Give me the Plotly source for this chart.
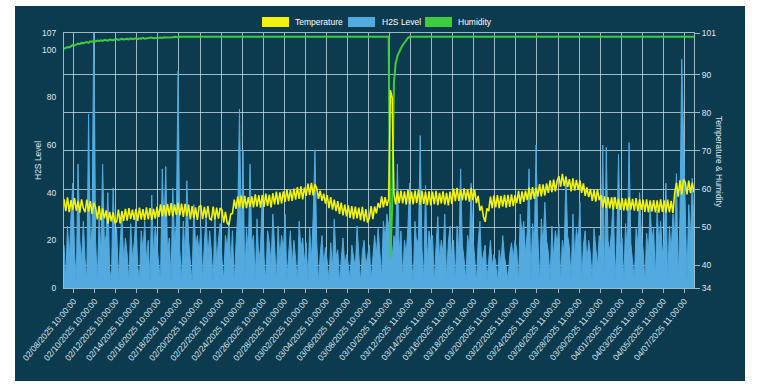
import pandas as pd
import plotly.graph_objects as go

# ---------------- data ----------------
start_time = "2025-02-07 12:00"   # first sample
step = "4h"                      # sampling step

h2s_level = [
    18, 3, 26, 12, 30, 44,
    15, 2, 52, 20, 11, 28,
    12, 3, 73, 18, 25, 115,
    20, 2, 30, 14, 52, 19,
    22, 40, 8, 2, 42, 16,
    25, 3, 18, 32, 10, 21,
    14, 2, 27, 12, 19, 30,
    9, 3, 24, 15, 28, 11,
    20, 2, 39, 13, 26, 17,
    10, 3, 50, 24, 51, 14,
    21, 2, 42, 18, 27, 91,
    16, 3, 28, 12, 45, 20,
    11, 2, 35, 17, 22, 14,
    26, 3, 19, 30, 12, 24,
    15, 2, 31, 10, 20, 27,
    12, 3, 22, 16, 28, 9,
    24, 2, 18, 31, 75, 20,
    58, 3, 25, 14, 52, 18,
    22, 2, 29, 11, 17, 39,
    13, 3, 24, 19, 10, 31,
    18, 2, 26, 12, 22, 15,
    31, 3, 14, 24, 9, 20,
    12, 2, 28, 16, 21, 10,
    19, 3, 25, 11, 30, 58,
    20, 2, 14, 22, 9, 17,
    11, 3, 19, 8, 29, 13,
    16, 2, 12, 21, 9, 14,
    10, 3, 18, 13, 8, 26,
    12, 2, 15, 20, 9, 13,
    18, 3, 11, 22, 14, 25,
    15, 4, 28, 20, 31, 26,
    30, 12, 22, 18, 52, 15,
    24, 3, 20, 14, 26, 44,
    12, 2, 28, 18, 21, 64,
    16, 3, 43, 11, 24, 19,
    22, 2, 17, 30, 12, 20,
    14, 31, 3, 19, 26, 11,
    20, 2, 26, 15, 50, 18,
    12, 3, 22, 16, 44, 21,
    13, 2, 19, 28, 10, 15,
    18, 3, 12, 20, 9, 14,
    11, 2, 16, 10, 22, 13,
    9, 3, 14, 19, 12, 20,
    16, 2, 31, 22, 28, 14,
    24, 50, 3, 27, 18, 60,
    22, 2, 29, 17, 36, 20,
    15, 3, 26, 12, 24, 18,
    27, 2, 20, 14, 47, 22,
    17, 3, 31, 12, 25, 19,
    36, 2, 18, 24, 11, 20,
    14, 3, 25, 16, 9, 22,
    18, 60, 2, 59, 20, 15,
    24, 38, 3, 19, 56, 17,
    21, 2, 27, 14, 61, 19,
    12, 3, 25, 18, 40, 22,
    16, 2, 23, 14, 34, 20,
    25, 3, 33, 18, 28, 14,
    20, 44, 2, 26, 15, 31,
    22, 48, 3, 30, 96, 61,
    28, 3, 35, 20, 46, 25,
]

temperature = [
    57.4, 54.2, 57.8, 53.9, 57.1, 54.6,
    57.6, 54.3, 56.9, 53.8, 57.3, 55.0,
    53.9, 57.2, 54.1, 56.8, 53.5, 56.4,
    55.2, 52.0, 55.6, 51.8, 54.9, 52.3,
    54.4, 50.9, 54.0, 51.5, 53.9, 51.2,
    51.4, 54.6, 51.0, 54.2, 51.6, 54.8,
    51.7, 55.0, 52.1, 54.6, 51.9, 54.8,
    51.6, 55.1, 52.0, 54.7, 51.8, 55.2,
    52.0, 55.0, 51.9, 54.8, 52.2, 55.3,
    52.6, 56.0, 52.9, 55.8, 52.8, 56.1,
    53.0, 56.3, 52.8, 56.0, 53.2, 56.4,
    53.1, 56.2, 52.7, 56.1, 52.9, 55.9,
    52.0, 55.5, 52.3, 55.2, 51.9, 55.4,
    55.6, 52.1, 55.3, 52.4, 55.5, 52.2,
    51.9, 55.4, 52.0, 55.1, 52.2, 55.0,
    54.6, 51.2, 54.0, 51.0, 50.6, 53.4,
    53.6, 57.2, 54.8, 58.0, 55.2, 58.3,
    54.9, 58.2, 55.0, 57.9, 55.3, 58.1,
    55.2, 58.6, 55.4, 58.4, 55.1, 58.5,
    55.3, 58.8, 55.6, 58.5, 55.2, 58.9,
    56.0, 59.3, 55.9, 59.1, 56.2, 59.4,
    56.6, 59.9, 56.8, 59.7, 56.9, 60.1,
    57.2, 60.5, 57.4, 60.7, 57.3, 60.4,
    58.2, 61.4, 58.4, 61.6, 58.3, 61.2,
    60.3, 57.4, 59.6, 56.9, 58.8, 56.2,
    58.4, 55.0, 57.9, 54.6, 57.2, 54.2,
    56.8, 53.5, 56.4, 53.1, 55.9, 52.8,
    55.7, 52.4, 55.5, 52.1, 55.4, 52.3,
    55.1, 51.8, 55.3, 51.5, 54.7, 51.2,
    52.4, 55.5, 52.1, 55.4, 53.6, 56.3,
    55.0, 58.1, 55.2, 57.9, 55.6, 57.4,
    86.0, 84.0, 58.8, 56.0, 59.4, 56.3,
    59.6, 56.2, 59.4, 55.9, 59.7, 56.1,
    59.3, 56.0, 59.6, 56.3, 59.8, 55.9,
    59.5, 56.1, 59.2, 55.8, 59.4, 55.7,
    59.3, 56.0, 59.5, 55.8, 59.0, 56.2,
    59.4, 55.9, 59.0, 55.7, 59.3, 56.1,
    60.1, 56.8, 60.3, 56.9, 59.9, 57.0,
    60.2, 57.0, 60.0, 56.7, 60.3, 57.1,
    59.8, 56.3, 58.2, 54.3, 55.6, 52.8,
    51.4, 54.9, 54.2, 58.0, 55.0, 58.3,
    55.2, 58.4, 55.0, 58.2, 55.4, 58.5,
    55.1, 58.5, 55.3, 58.6, 55.5, 58.4,
    56.3, 59.5, 56.1, 59.4, 56.6, 59.6,
    57.1, 60.4, 57.2, 60.5, 57.4, 60.3,
    58.0, 61.3, 58.1, 61.2, 58.3, 61.5,
    59.0, 62.3, 59.2, 62.5, 59.4, 62.1,
    63.4, 60.6, 64.0, 60.8, 63.2, 60.5,
    62.6, 59.4, 62.8, 59.6, 62.4, 59.8,
    62.3, 59.0, 61.5, 58.2, 60.4, 57.9,
    60.0, 56.9, 59.8, 56.7, 59.9, 57.1,
    58.4, 55.2, 58.1, 55.0, 57.9, 54.9,
    57.8, 54.6, 57.9, 54.8, 57.5, 54.5,
    57.6, 54.4, 57.5, 54.3, 57.8, 54.6,
    57.4, 54.3, 57.6, 54.2, 57.3, 54.5,
    57.2, 54.0, 57.3, 53.9, 57.0, 54.1,
    57.1, 53.9, 57.0, 53.8, 57.3, 54.0,
    57.0, 53.8, 57.2, 53.9, 56.9, 53.7,
    59.0, 61.6, 58.0, 62.3, 58.6, 62.5,
    61.8, 58.6, 62.2, 58.9, 61.7, 59.1,
]

humidity = [
    96.8, 97.1, 97.3, 97.2, 97.6, 97.8,
    97.7, 98.0, 98.2, 98.1, 98.4, 98.3,
    98.5, 98.6, 98.4, 98.8, 98.7, 98.9,
    98.8, 99.0, 98.9, 99.1, 98.9, 99.2,
    99.1, 99.0, 99.3, 99.2, 99.1, 99.3,
    99.4, 99.2, 99.3, 99.5, 99.3, 99.4,
    99.5, 99.3, 99.6, 99.4, 99.5, 99.6,
    99.4, 99.6, 99.5, 99.7, 99.5, 99.6,
    99.7, 99.6, 99.8, 99.6, 99.7, 99.8,
    99.7, 99.8, 99.7, 99.9, 99.8, 99.8,
    99.9, 99.8, 99.9, 100, 99.9, 99.9,
    100, 99.9, 100, 100, 99.9, 100,
    100, 100, 100, 100, 100, 100,
    100, 100, 100, 100, 100, 100,
    100, 100, 100, 100, 100, 100,
    100, 100, 100, 100, 100, 100,
    100, 100, 100, 100, 100, 100,
    100, 100, 100, 100, 100, 100,
    100, 100, 100, 100, 100, 100,
    100, 100, 100, 100, 100, 100,
    100, 100, 100, 100, 100, 100,
    100, 100, 100, 100, 100, 100,
    100, 100, 100, 100, 100, 100,
    100, 100, 100, 100, 100, 100,
    100, 100, 100, 100, 100, 100,
    100, 100, 100, 100, 100, 100,
    100, 100, 100, 100, 100, 100,
    100, 100, 100, 100, 100, 100,
    100, 100, 100, 100, 100, 100,
    100, 100, 100, 100, 100, 100,
    100, 100, 100, 100, 100, 100,
    42, 55, 88, 93, 95, 96.2,
    97, 97.8, 98.5, 99.2, 99.7, 100,
    100, 100, 100, 100, 100, 100,
    100, 100, 100, 100, 100, 100,
    100, 100, 100, 100, 100, 100,
    100, 100, 100, 100, 100, 100,
    100, 100, 100, 100, 100, 100,
    100, 100, 100, 100, 100, 100,
    100, 100, 100, 100, 100, 100,
    100, 100, 100, 100, 100, 100,
    100, 100, 100, 100, 100, 100,
    100, 100, 100, 100, 100, 100,
    100, 100, 100, 100, 100, 100,
    100, 100, 100, 100, 100, 100,
    100, 100, 100, 100, 100, 100,
    100, 100, 100, 100, 100, 100,
    100, 100, 100, 100, 100, 100,
    100, 100, 100, 100, 100, 100,
    100, 100, 100, 100, 100, 100,
    100, 100, 100, 100, 100, 100,
    100, 100, 100, 100, 100, 100,
    100, 100, 100, 100, 100, 100,
    100, 100, 100, 100, 100, 100,
    100, 100, 100, 100, 100, 100,
    100, 100, 100, 100, 100, 100,
    100, 100, 100, 100, 100, 100,
    100, 100, 100, 100, 100, 100,
    100, 100, 100, 100, 100, 100,
    100, 100, 100, 100, 100, 100,
]

tick_labels = [
    "02/08/2025 10:00:00", "02/10/2025 10:00:00", "02/12/2025 10:00:00",
    "02/14/2025 10:00:00", "02/16/2025 10:00:00", "02/18/2025 10:00:00",
    "02/20/2025 10:00:00", "02/22/2025 10:00:00", "02/24/2025 10:00:00",
    "02/26/2025 10:00:00", "02/28/2025 10:00:00", "03/02/2025 10:00:00",
    "03/04/2025 10:00:00", "03/06/2025 10:00:00", "03/08/2025 10:00:00",
    "03/10/2025 11:00:00", "03/12/2025 11:00:00", "03/14/2025 11:00:00",
    "03/16/2025 11:00:00", "03/18/2025 11:00:00", "03/20/2025 11:00:00",
    "03/22/2025 11:00:00", "03/24/2025 11:00:00", "03/26/2025 11:00:00",
    "03/28/2025 11:00:00", "03/30/2025 11:00:00", "04/01/2025 11:00:00",
    "04/03/2025 11:00:00", "04/05/2025 11:00:00", "04/07/2025 11:00:00",
]
h2s_ticks = [0, 20, 40, 60, 80, 100, 107]
th_ticks = [34, 40, 50, 60, 70, 80, 90, 101]

# ---------------- styling ----------------
W, H = 762, 385
L, R, T, B = 64, 694, 33, 288          # plot area in pixels
BG = "#0c3a4e"
GRID = "rgba(205,228,238,0.75)"
TXT = "#dce8ee"
YELLOW = "#f2f20a"
BLUE = "#52aadf"
GREEN = "#3ccc3c"
FONT = "Liberation Sans, Arial, sans-serif"

times = pd.date_range(start_time, periods=len(h2s_level), freq=step)
tick_vals = pd.date_range("2025-02-08 10:00", periods=len(tick_labels), freq="48h")


def px(x):
    return (x - L) / (R - L)


def py(y):
    return (B - y) / (B - T)


fig = go.Figure()
fig.add_trace(go.Scatter(
    x=times, y=h2s_level, name="H2S Level", mode="lines",
    line=dict(color=BLUE, width=1), fill="tozeroy", fillcolor=BLUE,
    yaxis="y", showlegend=False))
fig.add_trace(go.Scatter(
    x=times, y=humidity, name="Humidity", mode="lines",
    line=dict(color=GREEN, width=2), yaxis="y2", showlegend=False))
fig.add_trace(go.Scatter(
    x=times, y=temperature, name="Temperature", mode="lines",
    line=dict(color=YELLOW, width=1.6), yaxis="y2", showlegend=False))

shapes = [dict(type="rect", xref="paper", yref="paper",
               x0=px(15), x1=px(745), y0=py(381), y1=py(6),
               fillcolor=BG, line=dict(width=0), layer="below")]
annotations = []
legend_items = [("Temperature", YELLOW, 262, 293),
                ("H2S Level", BLUE, 348, 380),
                ("Humidity", GREEN, 425, 456)]
for name, col, bx, tx in legend_items:
    shapes.append(dict(type="rect", xref="paper", yref="paper",
                       x0=px(bx), x1=px(bx + 27), y0=py(27), y1=py(17),
                       fillcolor=col, line=dict(width=0)))
    annotations.append(dict(text=name, xref="paper", yref="paper",
                            x=px(tx), y=py(22), xanchor="left", yanchor="middle",
                            showarrow=False, font=dict(size=8.5, color="#ffffff", family=FONT)))
annotations.append(dict(text="H2S Level", xref="paper", yref="paper",
                        x=px(31), y=py(161), textangle=-90, showarrow=False,
                        font=dict(size=8.5, color=TXT, family=FONT)))
annotations.append(dict(text="Temperature & Humidity", xref="paper", yref="paper",
                        x=px(726), y=py(162), textangle=90, showarrow=False,
                        font=dict(size=8.5, color=TXT, family=FONT)))

fig.update_layout(
    width=W, height=H,
    margin=dict(l=L, r=W - R, t=T, b=H - B, autoexpand=False),
    paper_bgcolor="#ffffff", plot_bgcolor=BG,
    showlegend=False, hovermode=False,
    font=dict(family=FONT, color=TXT, size=8.5),
    shapes=shapes, annotations=annotations,
    xaxis=dict(
        type="date", range=[times[0], times[-1]],
        tickvals=tick_vals, ticktext=tick_labels, tickangle=-50,
        showgrid=True, gridcolor=GRID, gridwidth=1,
        ticks="outside", ticklen=4, tickcolor=GRID,
        showline=True, linecolor=GRID, mirror=True,
        tickfont=dict(size=8.5, color=TXT), zeroline=False),
    yaxis=dict(
        range=[0, 107], tickvals=h2s_ticks, showgrid=False, zeroline=False,
        ticks="outside", ticklen=5, tickcolor="rgba(0,0,0,0)",
        showline=True, linecolor=GRID, tickfont=dict(size=8.5, color=TXT)),
    yaxis2=dict(
        range=[34, 101], tickvals=th_ticks, overlaying="y", side="right",
        showgrid=True, gridcolor=GRID, gridwidth=1, zeroline=False,
        ticks="outside", ticklen=5, tickcolor=GRID,
        showline=True, linecolor=GRID, tickfont=dict(size=8.5, color=TXT)),
)

fig.write_html("out.html", config={"displayModeBar": False},
               post_script="document.body.style.margin='0';")
